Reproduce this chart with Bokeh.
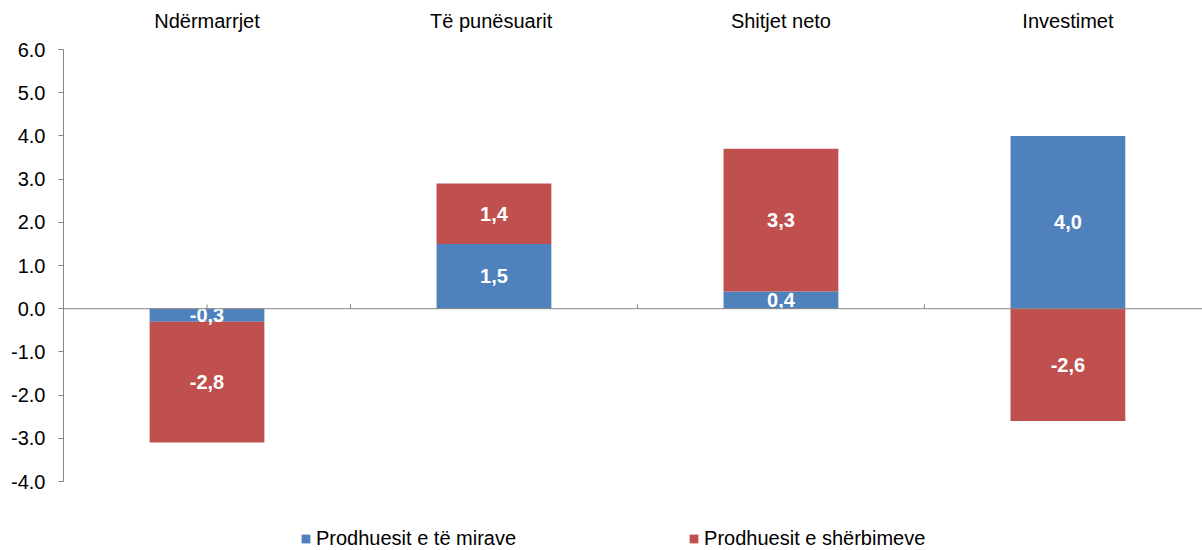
from bokeh.plotting import figure
from bokeh.layouts import column
from bokeh.models import Range1d, FixedTicker, Legend, LegendItem, Span, NumeralTickFormatter, ColumnDataSource
from bokeh.core.properties import value
from bokeh.embed import file_html
from bokeh.resources import INLINE

categories = ["Ndërmarrjet", "Të  punësuarit", "Shitjet neto", "Investimet"]
goods = [-0.3, 1.5, 0.4, 4.0]
services = [-2.8, 1.4, 3.3, -2.6]
series_names = ["Prodhuesit e të mirave", "Prodhuesit e shërbimeve"]
y_ticks = [-4, -3, -2, -1, 0, 1, 2, 3, 4, 5, 6]

BLUE = "#4F81BD"
RED = "#C0504D"
FONT = "Liberation Sans"
FS = "20px"

xc = [i + 0.5 for i in range(len(categories))]

# stack positives up from zero and negatives down from zero
g_bot, g_top, s_bot, s_top = [], [], [], []
for g, s in zip(goods, services):
    pos, neg = 0.0, 0.0
    if g >= 0:
        g_bot.append(pos); pos += g; g_top.append(pos)
    else:
        g_bot.append(neg); neg += g; g_top.append(neg)
    if s >= 0:
        s_bot.append(pos); pos += s; s_top.append(pos)
    else:
        s_bot.append(neg); neg += s; s_top.append(neg)

def fmt(v):
    return f"{v:.1f}".replace(".", ",")

p = figure(width=1202, height=500, output_backend="svg", toolbar_location=None,
           x_range=Range1d(0, 3.969), y_range=Range1d(-4, 6),
           x_axis_location="above",
           min_border_left=63, min_border_right=0, min_border_top=49, min_border_bottom=19)
p.outline_line_color = None
p.xgrid.visible = False
p.ygrid.visible = False
p.background_fill_color = "white"
p.border_fill_color = "white"

# category labels on top
xa = p.xaxis[0]
xa.ticker = FixedTicker(ticks=xc)
xa.major_label_overrides = {x: c for x, c in zip(xc, categories)}
xa.axis_line_color = None
xa.major_tick_line_color = None
xa.minor_tick_line_color = None
xa.major_label_standoff = 12
xa.major_label_text_font = FONT
xa.major_label_text_font_size = FS
xa.major_label_text_color = "black"

ya = p.yaxis[0]
ya.ticker = FixedTicker(ticks=y_ticks)
ya.formatter = NumeralTickFormatter(format="0.0")
ya.axis_line_color = "#868686"
ya.major_tick_line_color = "#868686"
ya.major_tick_out = 5
ya.major_tick_in = 0
ya.minor_tick_line_color = None
ya.major_label_standoff = 13
ya.major_label_text_font = FONT
ya.major_label_text_font_size = FS
ya.major_label_text_color = "black"

# small tick marks on the zero line
tk = [k * 0.5 for k in range(1, 8)]
p.segment(x0=tk, y0=[0] * len(tk), x1=tk, y1=[0.1] * len(tk), line_color="#868686", line_width=1)

src = ColumnDataSource(dict(x=xc, gb=g_bot, gt=g_top, sb=s_bot, st=s_top))
rg = p.vbar(x="x", bottom="gb", top="gt", width=0.4, source=src, fill_color=BLUE, line_color=None)
rs = p.vbar(x="x", bottom="sb", top="st", width=0.4, source=src, fill_color=RED, line_color=None)

p.add_layout(Span(location=0, dimension="width", line_color="#868686", line_width=1))

lx = xc + xc
ly = [(b + t) / 2 for b, t in zip(g_bot, g_top)] + [(b + t) / 2 for b, t in zip(s_bot, s_top)]
lt = [fmt(v) for v in goods] + [fmt(v) for v in services]
p.text(x=lx, y=ly, text=lt, text_color="white", text_font=value(FONT), text_font_style="bold",
       text_font_size=FS, text_align="center", text_baseline="middle")

# legend strip below the chart (its bars sit outside its visible range)
p2 = figure(width=1202, height=50, output_backend="svg", toolbar_location=None,
            x_range=Range1d(100, 101), y_range=Range1d(100, 101),
            x_axis_location=None, y_axis_location=None,
            min_border_left=0, min_border_right=0, min_border_top=0, min_border_bottom=0)
p2.outline_line_color = None
p2.xgrid.visible = False
p2.ygrid.visible = False
dg = p2.vbar(x="x", bottom="gb", top="gt", width=0.4, source=src, fill_color=BLUE, line_color=None)
ds = p2.vbar(x="x", bottom="sb", top="st", width=0.4, source=src, fill_color=RED, line_color=None)

legend = Legend(items=[LegendItem(label=series_names[0], renderers=[dg]),
                       LegendItem(label=series_names[1], renderers=[ds])],
                orientation="horizontal", location=(237, 0))
legend.border_line_color = None
legend.background_fill_alpha = 0
legend.padding = 0
legend.margin = 0
legend.glyph_width = 11
legend.glyph_height = 11
legend.label_standoff = 5
legend.spacing = 172
legend.label_text_font = FONT
legend.label_text_font_size = FS
legend.label_text_color = "black"
p2.add_layout(legend, "center")

layout = column(p, p2, spacing=0)
open("out.html", "w").write(file_html(layout, INLINE))
